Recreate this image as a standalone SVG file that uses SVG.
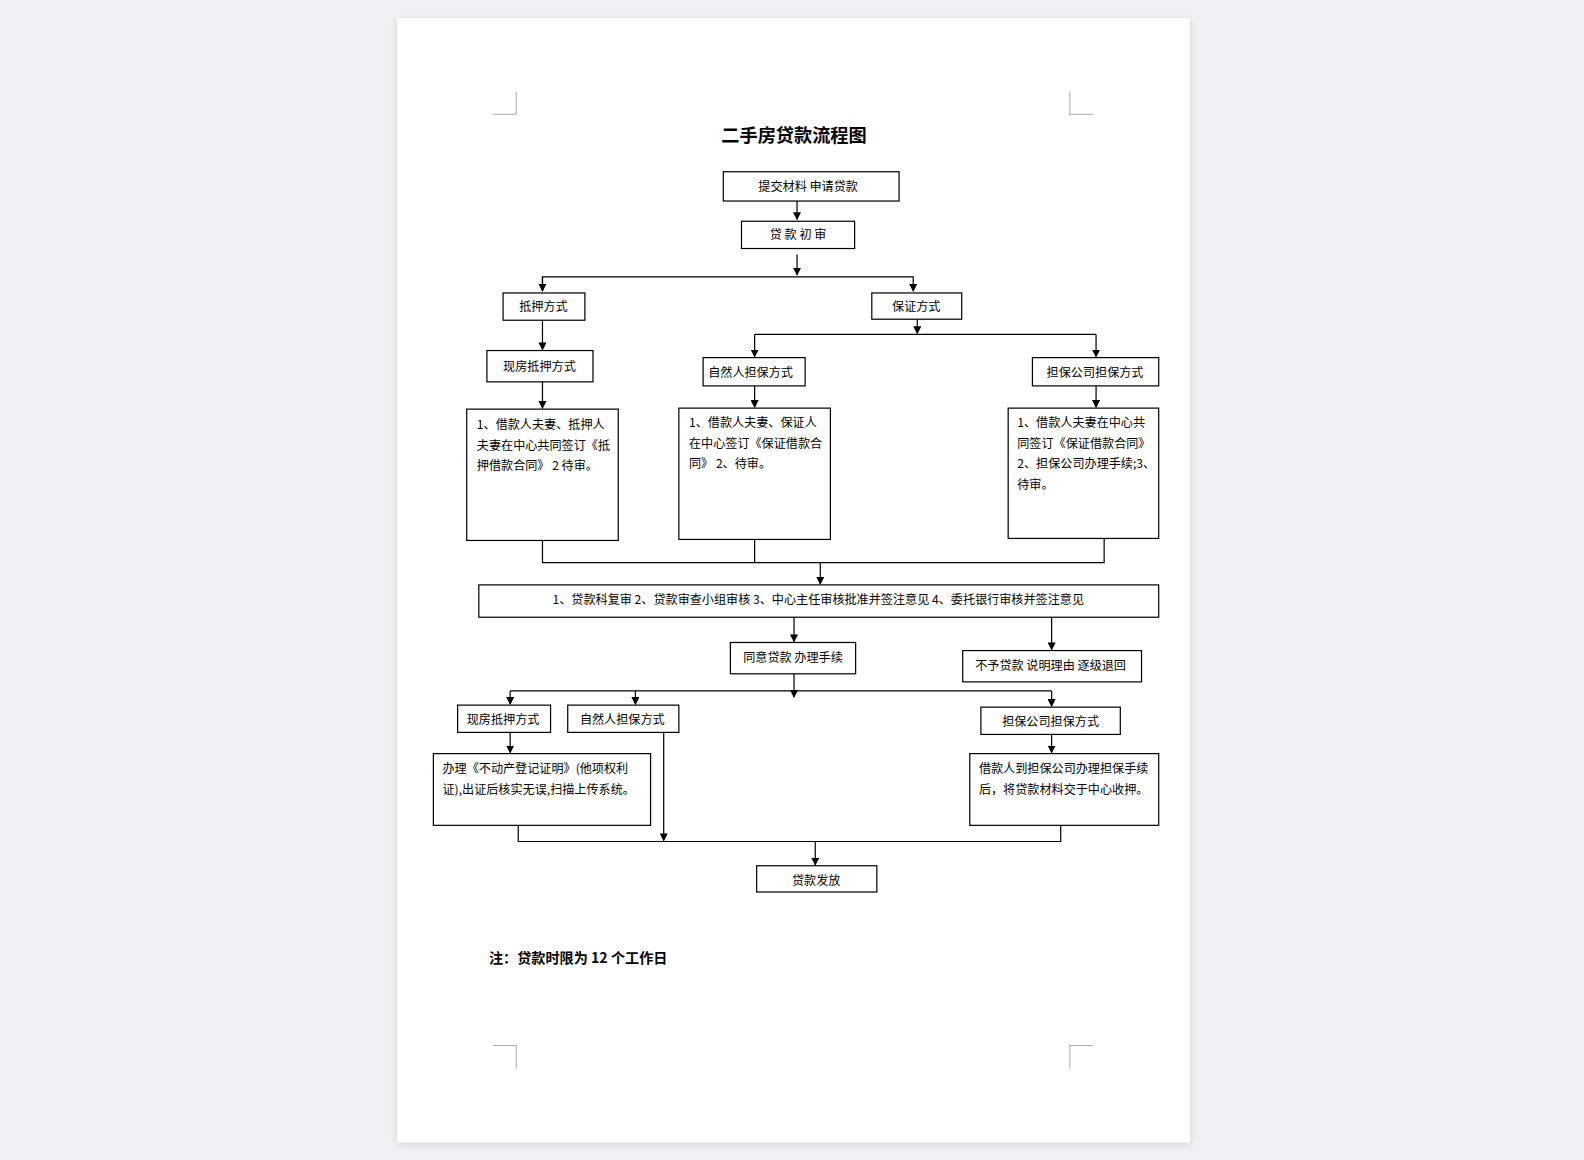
<svg xmlns="http://www.w3.org/2000/svg" width="1584" height="1160" viewBox="0 0 1584 1160">
<defs>
<marker id="ar" markerWidth="8" markerHeight="8" refX="7" refY="4" orient="auto" markerUnits="userSpaceOnUse"><path d="M0,0 L8,4 L0,8 Z" fill="#000"/></marker>
<filter id="sh" x="-5%" y="-5%" width="110%" height="110%"><feGaussianBlur stdDeviation="3"/></filter>
</defs>
<style>
.b{fill:#fff;stroke:#000;stroke-width:1.2}
.t{font-family:"Noto Sans CJK SC","Liberation Sans",sans-serif;font-size:12px;fill:#000}
.c{fill:none;stroke:#000;stroke-width:1.2}
.a{marker-end:url(#ar)}
.g{fill:none;stroke:#aaa;stroke-width:1}
</style>
<rect width="1584" height="1160" fill="#eef0f3"/>
<g transform="scale(1.0102)">
<rect x="393" y="20" width="785" height="1112" fill="#ccc" filter="url(#sh)"/>
<rect x="393" y="18" width="785" height="1113" fill="#fff"/>
<path class="g" d="M488,113 H511 V91 M1082,113 H1059 V91 M488,1035 H511 V1058 M1082,1035 H1059 V1058"/>
<text x="786" y="141" text-anchor="middle" font-family="Noto Sans CJK SC,sans-serif" font-size="18" font-weight="bold">二手房贷款流程图</text>
<g id="connectors">
<path class="c a" d="M789,199 V217"/>
<path class="c a" d="M789,252 V272"/>
<path class="c a" d="M537,288 V274 H904 V288"/>
<path class="c a" d="M537,274 V288"/>
<path class="c a" d="M537,317 V346"/>
<path class="c a" d="M537,378 V404"/>
<path class="c a" d="M908,316 V330"/>
<path class="c a" d="M747,331 V353"/>
<path class="c" d="M747,331 H1085"/>
<path class="c a" d="M1085,331 V353"/>
<path class="c a" d="M747,382 V403"/>
<path class="c a" d="M1085,382 V403"/>
<path class="c" d="M537,535 V557 H1093 V533 M747,534 V557"/>
<path class="c a" d="M812,557 V578"/>
<path class="c a" d="M786,611 V635"/>
<path class="c a" d="M1041,611 V643"/>
<path class="c a" d="M786,667 V690"/>
<path class="c" d="M505,684 H1041"/>
<path class="c a" d="M505,684 V697"/>
<path class="c a" d="M629,684 V697"/>
<path class="c a" d="M1041,684 V699"/>
<path class="c a" d="M505,724 V745"/>
<path class="c a" d="M1041,727 V745"/>
<path class="c a" d="M657,724 V832"/>
<path class="c" d="M513,817 V833 H1050 V817"/>
<path class="c a" d="M807,833 V856"/>
</g>
<g id="n1"><rect class="b" x="716" y="170" width="174" height="29"/><text class="t" x="800" y="189" text-anchor="middle">提交材料  申请贷款</text></g>
<g id="n2"><rect class="b" x="734" y="219" width="112" height="27"/><text class="t" x="790" y="237" text-anchor="middle">贷 款 初 审</text></g>
<g id="n3"><rect class="b" x="498" y="290" width="81" height="27"/><text class="t" x="538" y="308" text-anchor="middle">抵押方式</text></g>
<g id="n4"><rect class="b" x="863" y="290" width="89" height="26"/><text class="t" x="907" y="308" text-anchor="middle">保证方式</text></g>
<g id="n5"><rect class="b" x="482" y="347" width="105" height="31"/><text class="t" x="534" y="367" text-anchor="middle">现房抵押方式</text></g>
<g id="n6"><rect class="b" x="696" y="354" width="101" height="28"/><text class="t" x="743" y="373" text-anchor="middle" font-size="11">自然人担保方式</text></g>
<g id="n7"><rect class="b" x="1022" y="354" width="125" height="28"/><text class="t" x="1084" y="373" text-anchor="middle" font-size="10">担保公司担保方式</text></g>
<g id="n8"><rect class="b" x="462" y="405" width="150" height="130"/><text class="t"><tspan x="472" y="425">1、借款人夫妻、抵押人</tspan><tspan x="472" y="445">夫妻在中心共同签订《抵</tspan><tspan x="472" y="465">押借款合同》 2 待审。</tspan></text></g>
<g id="n9"><rect class="b" x="672" y="404" width="150" height="130"/><text class="t"><tspan x="682" y="423">1、借款人夫妻、保证人</tspan><tspan x="682" y="443">在中心签订《保证借款合</tspan><tspan x="682" y="463">同》 2、待审。</tspan></text></g>
<g id="n10"><rect class="b" x="998" y="404" width="149" height="129"/><text class="t"><tspan x="1007" y="423">1、借款人夫妻在中心共</tspan><tspan x="1007" y="443">同签订《保证借款合同》</tspan><tspan x="1007" y="463">2、担保公司办理手续;3、</tspan><tspan x="1007" y="484">待审。</tspan></text></g>
<g id="n11"><rect class="b" x="474" y="579" width="673" height="32"/><text class="t" x="810" y="598" text-anchor="middle">1、贷款科复审 2、贷款审查小组审核 3、中心主任审核批准并签注意见 4、委托银行审核并签注意见</text></g>
<g id="n12"><rect class="b" x="723" y="636" width="124" height="31"/><text class="t" x="785" y="655" text-anchor="middle">同意贷款  办理手续</text></g>
<g id="n13"><rect class="b" x="953" y="644" width="177" height="31"/><text class="t" x="1040" y="663" text-anchor="middle">不予贷款  说明理由  逐级退回</text></g>
<g id="n14"><rect class="b" x="453" y="698" width="92" height="27"/><text class="t" x="498" y="717" text-anchor="middle">现房抵押方式</text></g>
<g id="n15"><rect class="b" x="562" y="698" width="110" height="27"/><text class="t" x="616" y="717" text-anchor="middle">自然人担保方式</text></g>
<g id="n16"><rect class="b" x="971" y="700" width="138" height="27"/><text class="t" x="1040" y="719" text-anchor="middle">担保公司担保方式</text></g>
<g id="n17"><rect class="b" x="429" y="746" width="215" height="71"/><text class="t"><tspan x="438" y="765">办理《不动产登记证明》(他项权利</tspan><tspan x="438" y="786">证),出证后核实无误,扫描上传系统。</tspan></text></g>
<g id="n18"><rect class="b" x="960" y="746" width="187" height="71"/><text class="t"><tspan x="969" y="765">借款人到担保公司办理担保手续</tspan><tspan x="969" y="786">后，将贷款材料交于中心收押。</tspan></text></g>
<g id="n19"><rect class="b" x="749" y="857" width="119" height="26"/><text class="t" x="808" y="876" text-anchor="middle">贷款发放</text></g>
<text x="484" y="953" font-family="Noto Sans CJK SC,sans-serif" font-size="14" font-weight="bold">注：贷款时限为 12 个工作日</text>
</g>
</svg>
